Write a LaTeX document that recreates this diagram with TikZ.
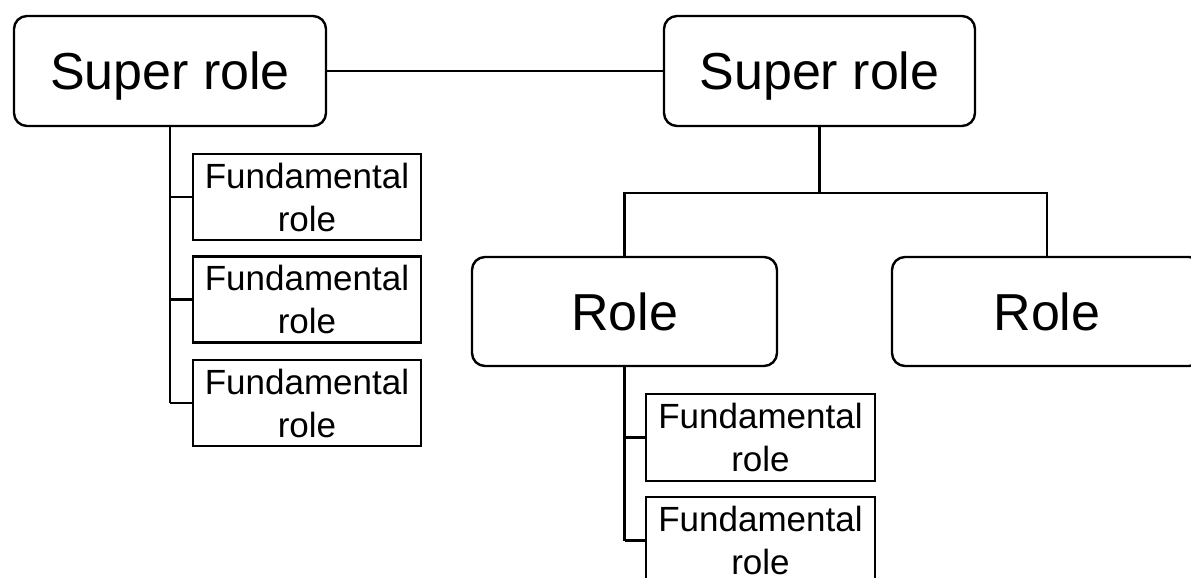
\documentclass[tikz,border=0pt]{standalone}
\usepackage{fontspec}
\setmainfont{Liberation Sans}
\begin{document}
\begin{tikzpicture}[x=1pt,y=-1pt,
  bigbox/.style={draw, line width=2.4pt, rounded corners=13pt, inner sep=0pt,
    font=\fontsize{52}{62}\selectfont, text height=37pt, text depth=0pt},
  smallbox/.style={draw, line width=2.4pt, inner sep=0pt, align=center,
    font=\fontsize{35}{43}\selectfont, minimum width=228pt, minimum height=86pt},
  link/.style={line width=2.2pt}]
\useasboundingbox (0,0) rectangle (1191,578);
\clip (0,0) rectangle (1191,578);
\fill[white] (0,0) rectangle (1191,578);

% top level
\node[bigbox, minimum width=312pt, minimum height=110pt] (supL) at (170,71) {Super role};
\node[bigbox, minimum width=311pt, minimum height=110pt] (supR) at (819.5,71) {Super role};

% second level under the right super role
\node[bigbox, minimum width=305pt, minimum height=109pt] (roleL) at (624.5,311.5) {Role};
\node[bigbox, minimum width=310pt, minimum height=109pt] (roleR) at (1047,311.5) {Role};

% fundamental roles of the left super role
\node[smallbox] (fa) at (307,197) {Fundamental\\role};
\node[smallbox] (fb) at (307,299.5) {Fundamental\\role};
\node[smallbox] (fc) at (307,403) {Fundamental\\role};

% fundamental roles of the left role
\node[smallbox, minimum width=229pt, minimum height=87pt] (ga) at (760.5,437.5) {Fundamental\\role};
\node[smallbox, minimum width=229pt, minimum height=87pt] (gb) at (760.5,540.5) {Fundamental\\role};

% connectors
\draw[link] (supL.east) -- (supR.west);

\draw[link] (supL.south) -- (supL.south |- fc.west);
\foreach \f in {fa,fb,fc}
  \draw[link] (supL.south |- \f.west) -- (\f.west);

\coordinate (bar) at (0,193);
\draw[link] (supR.south) -- (supR.south |- bar);
\draw[link] (roleL.north) -- (roleL.north |- bar) -- (roleR.north |- bar) -- (roleR.north);

\draw[link] (roleL.south) -- (roleL.south |- gb.west);
\foreach \g in {ga,gb}
  \draw[link] (roleL.south |- \g.west) -- (\g.west);
\end{tikzpicture}
\end{document}
